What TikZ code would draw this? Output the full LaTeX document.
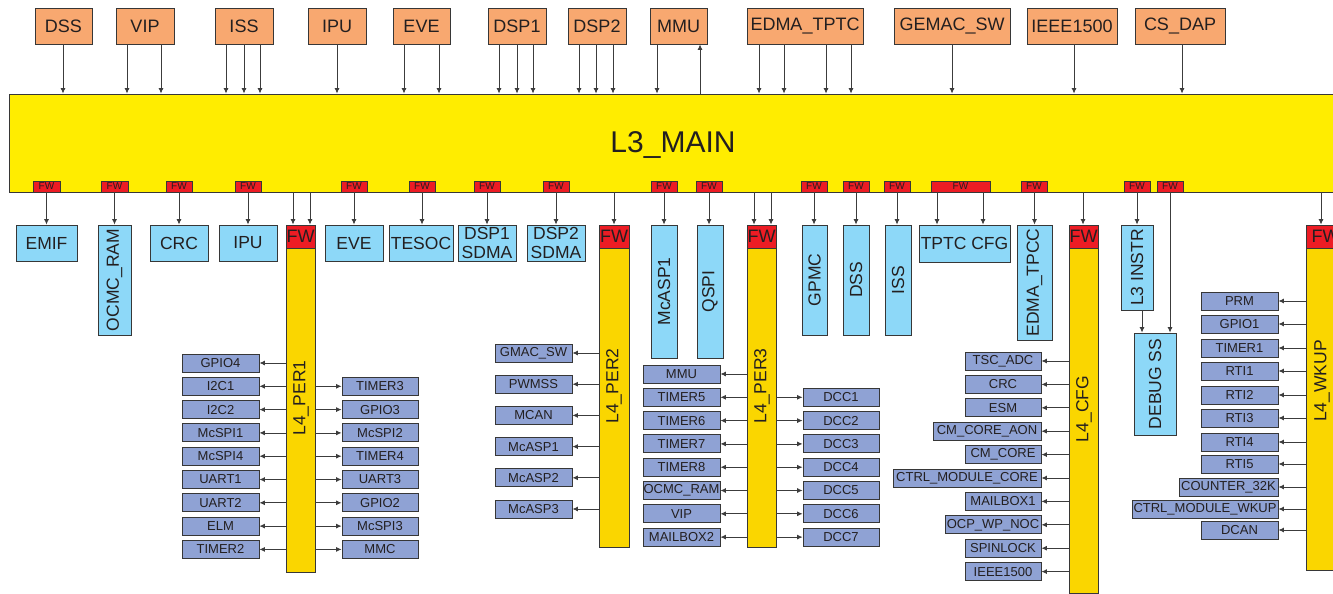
\documentclass[tikz,border=0pt]{standalone}
\usepackage{fontspec}
\setmainfont{Liberation Sans}
\usetikzlibrary{arrows.meta}
\definecolor{topc}{RGB}{248,168,112}
\definecolor{mainy}{RGB}{255,237,0}
\definecolor{lblue}{RGB}{141,216,248}
\definecolor{fwred}{RGB}{237,28,36}
\definecolor{bary}{RGB}{250,214,0}
\definecolor{sblue}{RGB}{143,162,212}
\definecolor{bordc}{RGB}{55,55,55}
\definecolor{linec}{RGB}{60,60,60}
\definecolor{txtc}{RGB}{35,31,32}
\tikzset{
 base/.style={draw=bordc, line width=0.9pt, inner sep=0pt, text=txtc},
 topbox/.style={base, fill=topc, font=\fontsize{18}{20}\selectfont},
 lbbox/.style={base, fill=lblue, font=\fontsize{17.5}{19}\selectfont, align=center},
 sbbox/.style={base, fill=sblue, font=\fontsize{13}{14}\selectfont},
 fwtag/.style={base, fill=fwred, font=\fontsize{10}{10}\selectfont},
 fwbig/.style={base, fill=fwred, font=\fontsize{18}{18}\selectfont},
 barbox/.style={base, fill=bary},
 mainbox/.style={base, fill=mainy},
 vlabel/.style={rotate=90, font=\fontsize{17.5}{19}\selectfont, text=txtc, inner sep=0pt},
 arr/.style={draw=linec, line width=0.8pt, -{Latex[length=5.5pt,width=5pt]}},
}
\newcommand\B[7]{\node[#2, minimum width={((#5)-(#3))*1pt}, minimum height={((#6)-(#4))*1pt}] (#1) at ({((#3)+(#5))/2},{((#4)+(#6))/2}) {#7};}
\newcommand\dn[3]{\draw[arr] (#1.south -| #3,0) -- (#2.north -| #3,0);}
\newcommand\SL[6]{\B{#1}{sbbox}{#2}{#4-9}{#3}{#4+9}{#5}\draw[arr] (#6.west |- #1.east) -- (#1.east);}
\newcommand\SR[6]{\B{#1}{sbbox}{#2}{#4-9}{#3}{#4+9}{#5}\draw[arr] (#6.east |- #1.west) -- (#1.west);}
\begin{document}
\begin{tikzpicture}[x=1pt,y=-1pt]
\clip (0,0) rectangle (1333,594);
\fill[white] (0,0) rectangle (1333,594);
% top masters
\B{tDSS}{topbox}{35}{8}{92}{44}{DSS}
\B{tVIP}{topbox}{116}{8}{174}{44}{VIP}
\B{tISS}{topbox}{215}{8}{273}{44}{ISS}
\B{tIPU}{topbox}{308}{8}{366}{44}{IPU}
\B{tEVE}{topbox}{393}{8}{450}{44}{EVE}
\B{tDSP1}{topbox}{488}{8}{546}{44}{DSP1}
\B{tDSP2}{topbox}{568}{8}{626}{44}{DSP2}
\B{tMMU}{topbox}{650}{8}{707}{44}{MMU}
\B{tEDMA}{topbox}{747}{8}{863}{44}{EDMA\_TPTC}
\B{tGEMAC}{topbox}{894}{8}{1010}{44}{GEMAC\_SW}
\B{tIEEE}{topbox}{1027}{8}{1117}{44}{IEEE1500}
\B{tCSDAP}{topbox}{1135}{8}{1225}{44}{CS\_DAP}
% L3 main
\B{L3}{mainbox}{9}{94}{1345}{192}{}
\node[anchor=base, font=\fontsize{30}{32}\selectfont, text=txtc, inner sep=0pt] (L3t) at (673,152) {L3\_MAIN};
% top connectors
\dn{tDSS}{L3}{63}
\dn{tVIP}{L3}{127} \dn{tVIP}{L3}{161}
\dn{tISS}{L3}{226} \dn{tISS}{L3}{244} \dn{tISS}{L3}{260}
\dn{tIPU}{L3}{337}
\dn{tEVE}{L3}{404} \dn{tEVE}{L3}{439}
\dn{tDSP1}{L3}{499} \dn{tDSP1}{L3}{517} \dn{tDSP1}{L3}{533}
\dn{tDSP2}{L3}{579} \dn{tDSP2}{L3}{596} \dn{tDSP2}{L3}{613}
\dn{tMMU}{L3}{657}
\draw[arr] (L3.north -| 700,0) -- (tMMU.south -| 700,0);
\dn{tEDMA}{L3}{759} \dn{tEDMA}{L3}{784} \dn{tEDMA}{L3}{826} \dn{tEDMA}{L3}{851}
\dn{tGEMAC}{L3}{952}
\dn{tIEEE}{L3}{1074}
\dn{tCSDAP}{L3}{1182}
% FW tags
\B{fw1}{fwtag}{33}{181}{60}{192}{FW}
\B{fw2}{fwtag}{101}{181}{128}{192}{FW}
\B{fw3}{fwtag}{166}{181}{192}{192}{FW}
\B{fw4}{fwtag}{235}{181}{261}{192}{FW}
\B{fw5}{fwtag}{341}{181}{367}{192}{FW}
\B{fw6}{fwtag}{409}{181}{435}{192}{FW}
\B{fw7}{fwtag}{474}{181}{500}{192}{FW}
\B{fw8}{fwtag}{543}{181}{569}{192}{FW}
\B{fw9}{fwtag}{651}{181}{677}{192}{FW}
\B{fw10}{fwtag}{696}{181}{722}{192}{FW}
\B{fw11}{fwtag}{801}{181}{827}{192}{FW}
\B{fw12}{fwtag}{843}{181}{869}{192}{FW}
\B{fw13}{fwtag}{884}{181}{910}{192}{FW}
\B{fw14}{fwtag}{931}{181}{990}{192}{FW}
\B{fw15}{fwtag}{1021}{181}{1047}{192}{FW}
\B{fw16}{fwtag}{1124}{181}{1150}{192}{FW}
\B{fw17}{fwtag}{1157}{181}{1183}{192}{FW}
% slaves on L3
\B{emif}{lbbox}{16}{225}{77}{261}{EMIF}
\B{ocmc}{lbbox}{98}{225}{131}{335}{}
\node[vlabel] at (ocmc) {OCMC\_RAM};
\B{crc}{lbbox}{150}{225}{208}{261}{CRC}
\B{ipu}{lbbox}{219}{225}{277}{261}{IPU}
\B{eve}{lbbox}{325}{225}{383}{261}{EVE}
\B{tesoc}{lbbox}{389}{225}{453}{261}{TESOC}
\B{sdma1}{lbbox}{458}{225}{516}{261}{DSP1\\SDMA}
\B{sdma2}{lbbox}{527}{225}{585}{261}{DSP2\\SDMA}
\B{mcasp}{lbbox}{651}{225}{677}{358}{}
\node[vlabel] at (mcasp) {McASP1};
\B{qspi}{lbbox}{697}{225}{723}{358}{}
\node[vlabel] at (qspi) {QSPI};
\B{gpmc}{lbbox}{802}{225}{827}{335}{}
\node[vlabel] at (gpmc) {GPMC};
\B{dss}{lbbox}{843}{225}{869}{335}{}
\node[vlabel] at (dss) {DSS};
\B{iss}{lbbox}{885}{225}{911}{335}{}
\node[vlabel] at (iss) {ISS};
\B{tptc}{lbbox}{919}{225}{1010}{262}{TPTC CFG}
\B{tpcc}{lbbox}{1017}{225}{1052}{340}{}
\node[vlabel] at (tpcc) {EDMA\_TPCC};
\B{l3instr}{lbbox}{1121}{225}{1153}{310}{}
\node[vlabel] at (l3instr) {L3 INSTR};
\B{debug}{lbbox}{1134}{333}{1176}{435}{}
\node[vlabel] at (debug) {DEBUG SS};
% L4 bars
\B{per1}{barbox}{286}{225}{315}{572}{}
\B{per1fw}{fwbig}{286}{225}{315}{248}{FW}
\node[vlabel] at (301,398) {L4\_PER1};
\B{per2}{barbox}{599}{225}{629}{547}{}
\B{per2fw}{fwbig}{599}{225}{629}{248}{FW}
\node[vlabel] at (614,386) {L4\_PER2};
\B{per3}{barbox}{747}{225}{776}{547}{}
\B{per3fw}{fwbig}{747}{225}{776}{248}{FW}
\node[vlabel] at (762,386) {L4\_PER3};
\B{cfg}{barbox}{1069}{225}{1098}{593}{}
\B{cfgfw}{fwbig}{1069}{225}{1098}{248}{FW}
\node[vlabel] at (1084,409) {L4\_CFG};
\B{wkup}{barbox}{1306}{225}{1345}{570}{}
\B{wkupfw}{fwbig}{1306}{225}{1345}{248}{FW}
\node[vlabel] at (1322,381) {L4\_WKUP};
% connectors below L3
\dn{fw1}{emif}{46.5}
\dn{fw2}{ocmc}{114.5}
\dn{fw3}{crc}{179}
\dn{fw4}{ipu}{248}
\dn{L3}{per1fw}{293} \dn{L3}{per1fw}{310}
\dn{fw5}{eve}{354}
\dn{fw6}{tesoc}{422}
\dn{fw7}{sdma1}{487}
\dn{fw8}{sdma2}{556}
\dn{L3}{per2fw}{614}
\dn{fw9}{mcasp}{664}
\dn{fw10}{qspi}{709}
\dn{L3}{per3fw}{754} \dn{L3}{per3fw}{771}
\dn{fw11}{gpmc}{814}
\dn{fw12}{dss}{856}
\dn{fw13}{iss}{897}
\dn{fw14}{tptc}{937} \dn{fw14}{tptc}{983}
\dn{fw15}{tpcc}{1034.5}
\dn{L3}{cfgfw}{1083}
\dn{fw16}{l3instr}{1137}
\dn{fw17}{debug}{1170}
\dn{l3instr}{debug}{1142}
\dn{L3}{wkupfw}{1321}
% L4_PER1
\SL{p1a}{182}{259}{363}{GPIO4}{per1}
\SL{p1b}{182}{259}{386.3}{I2C1}{per1}
\SL{p1c}{182}{259}{409.6}{I2C2}{per1}
\SL{p1d}{182}{259}{432.9}{McSPI1}{per1}
\SL{p1e}{182}{259}{456.2}{McSPI4}{per1}
\SL{p1f}{182}{259}{479.5}{UART1}{per1}
\SL{p1g}{182}{259}{502.8}{UART2}{per1}
\SL{p1h}{182}{259}{526.1}{ELM}{per1}
\SL{p1i}{182}{259}{549.4}{TIMER2}{per1}
\SR{p1j}{342}{418}{386.3}{TIMER3}{per1}
\SR{p1k}{342}{418}{409.6}{GPIO3}{per1}
\SR{p1l}{342}{418}{432.9}{McSPI2}{per1}
\SR{p1m}{342}{418}{456.2}{TIMER4}{per1}
\SR{p1n}{342}{418}{479.5}{UART3}{per1}
\SR{p1o}{342}{418}{502.8}{GPIO2}{per1}
\SR{p1p}{342}{418}{526.1}{McSPI3}{per1}
\SR{p1q}{342}{418}{549.4}{MMC}{per1}
% L4_PER2
\SL{p2a}{495}{572}{353}{GMAC\_SW}{per2}
\SL{p2b}{495}{572}{384.2}{PWMSS}{per2}
\SL{p2c}{495}{572}{415.4}{MCAN}{per2}
\SL{p2d}{495}{572}{446.6}{McASP1}{per2}
\SL{p2e}{495}{572}{477.8}{McASP2}{per2}
\SL{p2f}{495}{572}{509}{McASP3}{per2}
% L4_PER3
\SL{p3a}{643}{720}{374}{MMU}{per3}
\SL{p3b}{643}{720}{397.3}{TIMER5}{per3}
\SL{p3c}{643}{720}{420.6}{TIMER6}{per3}
\SL{p3d}{643}{720}{443.9}{TIMER7}{per3}
\SL{p3e}{643}{720}{467.2}{TIMER8}{per3}
\SL{p3f}{643}{720}{490.5}{OCMC\_RAM}{per3}
\SL{p3g}{643}{720}{513.8}{VIP}{per3}
\SL{p3h}{643}{720}{537.1}{MAILBOX2}{per3}
\SR{p3i}{803}{879}{397.3}{DCC1}{per3}
\SR{p3j}{803}{879}{420.6}{DCC2}{per3}
\SR{p3k}{803}{879}{443.9}{DCC3}{per3}
\SR{p3l}{803}{879}{467.2}{DCC4}{per3}
\SR{p3m}{803}{879}{490.5}{DCC5}{per3}
\SR{p3n}{803}{879}{513.8}{DCC6}{per3}
\SR{p3o}{803}{879}{537.1}{DCC7}{per3}
% L4_CFG
\SL{c1}{965}{1041}{361}{TSC\_ADC}{cfg}
\SL{c2}{965}{1041}{384.4}{CRC}{cfg}
\SL{c3}{965}{1041}{407.8}{ESM}{cfg}
\SL{c4}{933}{1041}{431.2}{CM\_CORE\_AON}{cfg}
\SL{c5}{965}{1041}{454.6}{CM\_CORE}{cfg}
\SL{c6}{893}{1041}{478}{CTRL\_MODULE\_CORE}{cfg}
\SL{c7}{965}{1041}{501.4}{MAILBOX1}{cfg}
\SL{c8}{945}{1041}{524.8}{OCP\_WP\_NOC}{cfg}
\SL{c9}{965}{1041}{548.2}{SPINLOCK}{cfg}
\SL{c10}{965}{1041}{571.6}{IEEE1500}{cfg}
% L4_WKUP
\SL{w1}{1201}{1278}{301}{PRM}{wkup}
\SL{w2}{1201}{1278}{324}{GPIO1}{wkup}
\SL{w3}{1201}{1278}{348}{TIMER1}{wkup}
\SL{w4}{1201}{1278}{371}{RTI1}{wkup}
\SL{w5}{1201}{1278}{395}{RTI2}{wkup}
\SL{w6}{1201}{1278}{418}{RTI3}{wkup}
\SL{w7}{1201}{1278}{442}{RTI4}{wkup}
\SL{w8}{1201}{1278}{464}{RTI5}{wkup}
\SL{w9}{1179}{1278}{487}{COUNTER\_32K}{wkup}
\SL{w10}{1132}{1278}{509}{CTRL\_MODULE\_WKUP}{wkup}
\SL{w11}{1201}{1278}{530}{DCAN}{wkup}
\end{tikzpicture}
\end{document}
